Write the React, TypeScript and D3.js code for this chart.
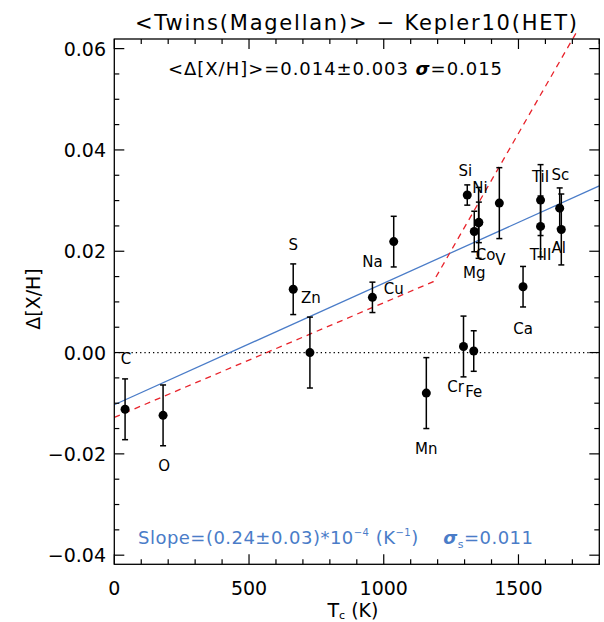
import React from "react";
import * as d3 from "d3";

const elements = ["C", "O", "S", "Zn", "Na", "Cu", "Mn", "Cr", "Si", "Fe", "Mg", "Co", "Ni", "V", "Ca", "TiI", "TiII", "Al", "Sc"];
const condensationT = [40, 181, 664, 726, 958, 1037, 1158, 1296, 1310, 1334, 1336, 1352, 1353, 1429, 1517, 1582, 1582, 1653, 1659];
const deltaXH = [-0.0112, -0.0124, 0.0125, 0.0, 0.0109, 0.0219, -0.008, 0.0012, 0.0311, 0.0003, 0.0239, 0.0256, 0.0257, 0.0295, 0.013, 0.0301, 0.0249, 0.0285, 0.0243];
const errorXH = [0.006, 0.006, 0.005, 0.007, 0.003, 0.005, 0.007, 0.006, 0.002, 0.004, 0.004, 0.007, 0.004, 0.007, 0.004, 0.007, 0.006, 0.004, 0.007];

const xTickLabels = [0, 500, 1000, 1500];
const yTickLabels = [-0.04, -0.02, 0.0, 0.02, 0.04, 0.06];

const blueSlope = 0.24e-4;
const blueIntercept = -0.0103;
const redBreakT = [0, 1184, 1715];
const redBreakV = [-0.0128, 0.014, 0.0632];

// label placement (layout, px offsets from each point)
const labelOffsets: [number, number][] = [
  [1, -50], [1, 51], [0, -44], [1, -55], [0, -35], [0, 47], [0, 56], [-8, 41], [-2, -24], [0, 41],
  [0, 42], [7, 32], [1, -34], [1, 57], [0, 42], [0, -23], [0, 29], [-1, 40], [-1, -54],
];

const W = 604, H = 622;
const L = 114.3, R = 599.3, T = 39, B = 564.3;
const FONT = "'DejaVu Sans', sans-serif";
const BLUE = "#4a7cc8";
const RED = "#e8232b";

export default function App() {
  const x = d3.scaleLinear().domain([0, 1800]).range([L, R]);
  const y = d3.scaleLinear().domain([-0.0418, 0.0619]).range([B, T]);

  const xMinor = d3.range(0, 1801, 100);
  const yMinor = d3.range(-0.04, 0.0601, 0.005);

  const blueLine = d3.line<number>().x((t) => x(t)).y((t) => y(blueIntercept + blueSlope * t));
  const redLine = d3.line<number>().x((_, i) => x(redBreakT[i])).y((_, i) => y(redBreakV[i]));

  const fmtY = (v: number) => {
    const s = Math.abs(v).toFixed(2);
    return v < -1e-9 ? "\u2212" + s : s;
  };

  return (
    <svg width={W} height={H} style={{ position: "absolute", left: 0, top: 0, background: "#fff" }} fontFamily={FONT}>
      <defs>
        <clipPath id="plot">
          <rect x={L} y={T - 8} width={R - L} height={B - T + 8} />
        </clipPath>
      </defs>
      {/* title */}
      <text x={135} y={30} fontSize={21} textLength={442} lengthAdjust="spacing" fill="#000">
        {"<Twins(Magellan)> \u2212 Kepler10(HET)"}
      </text>
      {/* zero line */}
      <line x1={L} x2={R} y1={y(0)} y2={y(0)} stroke="#000" strokeWidth={1.2} strokeDasharray="1.3 3" />
      {/* fits */}
      <g clipPath="url(#plot)">
        <path d={blueLine([0, 1800]) || ""} fill="none" stroke={BLUE} strokeWidth={1.3} />
        <path d={redLine(redBreakT) || ""} fill="none" stroke={RED} strokeWidth={1.3} strokeDasharray="6 5" />
      </g>
      {/* error bars & points */}
      {elements.map((el, i) => {
        const cx = x(condensationT[i]);
        const cy = y(deltaXH[i]);
        const y1 = y(deltaXH[i] + errorXH[i]);
        const y2 = y(deltaXH[i] - errorXH[i]);
        return (
          <g key={el + i}>
            <line x1={cx} x2={cx} y1={y1} y2={y2} stroke="#000" strokeWidth={1.5} />
            <line x1={cx - 3} x2={cx + 3} y1={y1} y2={y1} stroke="#000" strokeWidth={1.5} />
            <line x1={cx - 3} x2={cx + 3} y1={y2} y2={y2} stroke="#000" strokeWidth={1.5} />
            <circle cx={cx} cy={cy} r={4.5} fill="#000" />
          </g>
        );
      })}
      {elements.map((el, i) => (
        <text
          key={"l" + el + i}
          x={x(condensationT[i]) + labelOffsets[i][0]}
          y={y(deltaXH[i]) + labelOffsets[i][1]}
          fontSize={15}
          textAnchor="middle"
          dominantBaseline="central"
          fill="#000"
        >
          {el}
        </text>
      ))}
      {/* frame */}
      <rect x={L} y={T} width={R - L} height={B - T} fill="none" stroke="#000" strokeWidth={1.3} />
      {/* ticks */}
      {xMinor.map((t) => {
        const major = t % 500 === 0;
        const len = major ? 10 : 5;
        return (
          <g key={"xt" + t}>
            <line x1={x(t)} x2={x(t)} y1={B} y2={B - len} stroke="#000" strokeWidth={1.2} />
            <line x1={x(t)} x2={x(t)} y1={T} y2={T + len} stroke="#000" strokeWidth={1.2} />
          </g>
        );
      })}
      {yMinor.map((v, k) => {
        const major = k % 4 === 0;
        const len = major ? 10 : 5;
        return (
          <g key={"yt" + k}>
            <line x1={L} x2={L + len} y1={y(v)} y2={y(v)} stroke="#000" strokeWidth={1.2} />
            <line x1={R} x2={R - len} y1={y(v)} y2={y(v)} stroke="#000" strokeWidth={1.2} />
          </g>
        );
      })}
      {xTickLabels.map((t) => (
        <text key={"xl" + t} x={x(t)} y={595} fontSize={19} textAnchor="middle" fill="#000">
          {t}
        </text>
      ))}
      {yTickLabels.map((v) => (
        <text key={"yl" + v} x={106} y={y(v)} fontSize={19} textAnchor="end" dominantBaseline="central" fill="#000">
          {fmtY(v)}
        </text>
      ))}
      {/* axis titles */}
      <text x={353} y={617} fontSize={19} textAnchor="middle" fill="#000">
        T<tspan fontSize={11} dy={2}>c</tspan>
        <tspan dy={-2}>{" (K)"}</tspan>
      </text>
      <text transform="translate(40,299) rotate(-90)" fontSize={19} textAnchor="middle" fill="#000">
        {"\u0394[X/H]"}
      </text>
      {/* annotations */}
      <text x={168} y={75} fontSize={18} textLength={334} lengthAdjust="spacing" fill="#000">
        {"<\u0394[X/H]>=0.014\u00b10.003 "}
        <tspan fontWeight="bold" fontStyle="italic">{"\u03c3"}</tspan>
        {"=0.015"}
      </text>
      <text x={138} y={544} fontSize={18} textLength={395} lengthAdjust="spacing" fill={BLUE}>
        {"Slope=(0.24\u00b10.03)*10"}
        <tspan fontSize={10} dy={-8}>{"\u22124"}</tspan>
        <tspan dy={8}>{" (K"}</tspan>
        <tspan fontSize={10} dy={-8}>{"\u22121"}</tspan>
        <tspan dy={8}>{")\u2003 "}</tspan>
        <tspan fontWeight="bold" fontStyle="italic">{"\u03c3"}</tspan>
        <tspan fontSize={11} dy={4}>s</tspan>
        <tspan dy={-4}>{"=0.011"}</tspan>
      </text>
    </svg>
  );
}
